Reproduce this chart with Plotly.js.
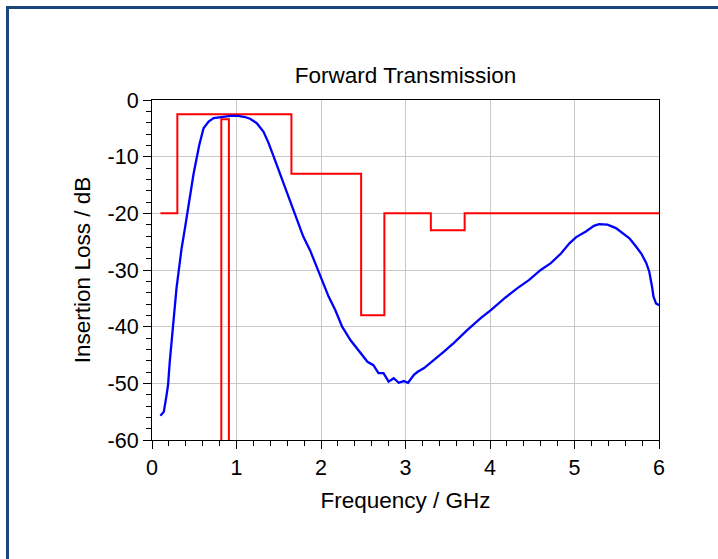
<!DOCTYPE html>
<html>
<head>
<meta charset="utf-8">
<script src="https://cdn.plot.ly/plotly-3.0.1.min.js"></script>
<style>
  html, body { margin: 0; padding: 0; overflow: hidden; background: #fff; }
  #chart { width: 718px; height: 559px; position: absolute; left: 0; top: 0; }
  #frame { position: absolute; left: 6px; top: 6px; width: 800px; height: 700px;
           border: 3px solid #1b467a; pointer-events: none; box-sizing: border-box; }
</style>
</head>
<body>
<div id="chart"></div>
<div id="frame"></div>
<script>
// Measured insertion loss (blue)
const freqGHz = [0.10,0.14,0.17,0.19,0.21,0.245,0.27,0.29,0.32,0.35,0.39,0.42,0.45,0.49,0.52,0.56,0.61,0.67,0.73,0.83,0.93,1.02,1.10,1.16,1.24,1.32,1.38,1.44,1.50,1.56,1.62,1.68,1.74,1.79,1.87,1.95,2.01,2.09,2.17,2.25,2.35,2.45,2.55,2.62,2.68,2.74,2.80,2.86,2.92,2.98,3.03,3.10,3.14,3.22,3.34,3.455,3.57,3.73,3.89,4.01,4.17,4.325,4.46,4.60,4.72,4.84,4.94,5.02,5.135,5.23,5.29,5.39,5.49,5.57,5.65,5.73,5.79,5.85,5.885,5.917,5.935,5.965,6.00];
const lossDB = [-55.7,-55.0,-52.3,-50.3,-46.2,-40.3,-36.8,-33.2,-29.7,-26.2,-22.6,-19.7,-16.8,-13.2,-10.9,-7.9,-5.0,-3.8,-3.2,-3.0,-2.8,-2.8,-3.0,-3.3,-4.1,-5.6,-7.6,-10.0,-12.4,-14.7,-17.1,-19.4,-21.8,-24.1,-26.5,-29.4,-31.8,-34.7,-37.1,-40.0,-42.4,-44.4,-46.2,-46.8,-48.2,-48.2,-49.7,-49.1,-49.9,-49.6,-49.9,-48.5,-48.0,-47.3,-45.9,-44.4,-42.9,-40.6,-38.5,-37.1,-35.0,-33.2,-31.8,-30.0,-28.8,-27.1,-25.3,-24.2,-23.2,-22.2,-21.9,-22.0,-22.6,-23.5,-24.4,-25.9,-27.1,-28.8,-30.3,-32.9,-34.7,-35.9,-36.2];

// Specification mask (red)
const maskFreq = [0.1,0.3,0.3,1.65,1.65,2.475,2.475,2.75,2.75,3.3,3.3,3.7,3.7,6.0];
const maskDB   = [-20,-20,-2.5,-2.5,-13,-13,-38,-38,-20,-20,-23,-23,-20,-20];
const notchFreq = [0.82,0.82,0.91,0.91];
const notchDB   = [-65,-3.4,-3.4,-65];

const xTickVals = [0,1,2,3,4,5,6];
const yTickVals = [-60,-50,-40,-30,-20,-10,0];

const fontFam = 'Arial, "Liberation Sans", sans-serif';

const traces = [
  {x: maskFreq, y: maskDB, mode: 'lines', line: {color: '#ff0000', width: 2}, hoverinfo: 'skip'},
  {x: notchFreq, y: notchDB, mode: 'lines', line: {color: '#ff0000', width: 2}, hoverinfo: 'skip'},
  {x: freqGHz, y: lossDB, mode: 'lines', line: {color: '#0000ff', width: 2.3}, hoverinfo: 'skip'}
];

const layout = {
  width: 718, height: 559,
  margin: {l: 152, r: 59, t: 100, b: 119},
  paper_bgcolor: '#ffffff', plot_bgcolor: '#ffffff',
  showlegend: false,
  font: {family: fontFam, color: '#000000', size: 21},
  title: {text: 'Forward Transmission', font: {family: fontFam, size: 22.5, color: '#000'},
          x: 0.5, xanchor: 'center', xref: 'paper', yref: 'container', y: 1 - 75/559, yanchor: 'middle'},
  xaxis: {
    range: [0, 6], tickvals: xTickVals, ticktext: xTickVals.map(String),
    ticks: 'outside', ticklen: 8, tickcolor: '#000', tickwidth: 1,
    showline: true, mirror: true, linecolor: '#000', linewidth: 1,
    showgrid: true, gridcolor: '#c8c8c8', gridwidth: 1, zeroline: false,
    tickfont: {family: fontFam, size: 21.5, color: '#000'},
    minor: {dtick: 0.2, ticks: 'outside', ticklen: 5, tickcolor: '#000', showgrid: false},
    title: {text: 'Frequency / GHz', font: {family: fontFam, size: 22.5, color: '#000'}, standoff: 13}
  },
  yaxis: {
    range: [-60, 0], tickvals: yTickVals, ticktext: yTickVals.map(String),
    ticks: 'outside', ticklen: 8, tickcolor: '#000', tickwidth: 1,
    showline: true, mirror: true, linecolor: '#000', linewidth: 1,
    showgrid: true, gridcolor: '#c8c8c8', gridwidth: 1, zeroline: false,
    tickfont: {family: fontFam, size: 21.5, color: '#000'},
    minor: {dtick: 2, ticks: 'outside', ticklen: 5, tickcolor: '#000', showgrid: false},
    title: {text: 'Insertion Loss / dB', font: {family: fontFam, size: 22.5, color: '#000'}, standoff: 10}
  }
};

Plotly.newPlot('chart', traces, layout, {staticPlot: true, displayModeBar: false});
</script>
</body>
</html>
